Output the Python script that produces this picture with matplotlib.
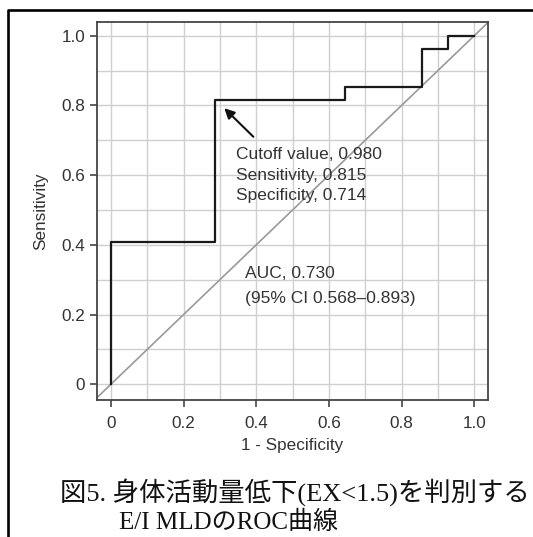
import matplotlib
matplotlib.use("Agg")
import matplotlib.pyplot as plt
from matplotlib.lines import Line2D

plt.rcParams['font.family'] = ['Liberation Sans', 'DejaVu Sans']

# ROC curve steps (1 - specificity, sensitivity)
fpr = [0, 0, 0.286, 0.286, 0.643, 0.643, 0.857, 0.857, 0.929, 0.929, 1.0]
tpr = [0, 0.407, 0.407, 0.815, 0.815, 0.852, 0.852, 0.963, 0.963, 1.0, 1.0]

ticks = [0, 0.2, 0.4, 0.6, 0.8, 1.0]
tick_labels = ['0', '0.2', '0.4', '0.6', '0.8', '1.0']
grid = [i / 10 for i in range(11)]

cut_point = (0.312, 0.792)
cut_text = 'Cutoff value, 0.980\nSensitivity, 0.815\nSpecificity, 0.714'
auc_text = 'AUC, 0.730\n(95% CI 0.568\u20130.893)'
caption1 = '図5. 身体活動量低下(EX<1.5)を判別する'
caption2 = 'E/I MLDのROC曲線'

txt = '#333333'

fig = plt.figure(figsize=(5.33, 5.37), dpi=100)
ax = fig.add_axes([0.1814, 0.2551, 0.7347, 0.7045])

for g in grid:
    ax.axvline(g, color='#cfcfcf', lw=1.0, zorder=0)
    ax.axhline(g, color='#cfcfcf', lw=1.0, zorder=0)

ax.axline((0, 0), (1, 1), color='#999999', lw=1.2, zorder=1)
ax.plot(fpr, tpr, color='#1a1a1a', lw=1.6, zorder=3)

ax.set_xlim(-0.039, 1.0385)
ax.set_ylim(-0.045, 1.040)
ax.set_xticks(ticks)
ax.set_xticklabels(tick_labels)
ax.set_yticks(ticks)
ax.set_yticklabels(tick_labels)
ax.tick_params(direction='out', length=4.8, width=1.2, colors='#444444',
               labelcolor=txt, labelsize=12.3)
ax.tick_params(axis='x', pad=7)
ax.tick_params(axis='y', pad=3.6)
for s in ax.spines.values():
    s.set_color('#444444')
    s.set_linewidth(1.3)

ax.set_xlabel('1 - Specificity', fontsize=12.3, color=txt, labelpad=5)
ax.set_ylabel('Sensitivity', fontsize=12.3, color=txt, labelpad=9)

ax.annotate('', xy=cut_point, xytext=(0.392, 0.710),
            arrowprops=dict(arrowstyle='-|>', color='#111111', lw=1.5,
                            mutation_scale=15, shrinkA=0, shrinkB=0))
ax.text(0.343, 0.600, cut_text, fontsize=12.5, color=txt, va='center',
        ha='left', linespacing=1.47)
ax.text(0.368, 0.281, auc_text, fontsize=12.5, color=txt, va='center',
        ha='left', linespacing=1.82)

# outer frame (top and left edge)
fig.add_artist(Line2D([8 / 533, 8 / 533, 1.0], [0.0, 1 - 10 / 537, 1 - 10 / 537],
                      transform=fig.transFigure, color='black', lw=1.9))

cap_font = ['Liberation Serif', 'Noto Sans CJK JP', 'DejaVu Sans']
fig.text(60 / 533, 1 - 492 / 537, caption1, family=cap_font, fontsize=19,
         color='#111111', ha='left', va='center')
fig.text(119 / 533, 1 - 522 / 537, caption2, family=cap_font, fontsize=18,
         color='#111111', ha='left', va='center')

fig.savefig('out.png', dpi=100)
